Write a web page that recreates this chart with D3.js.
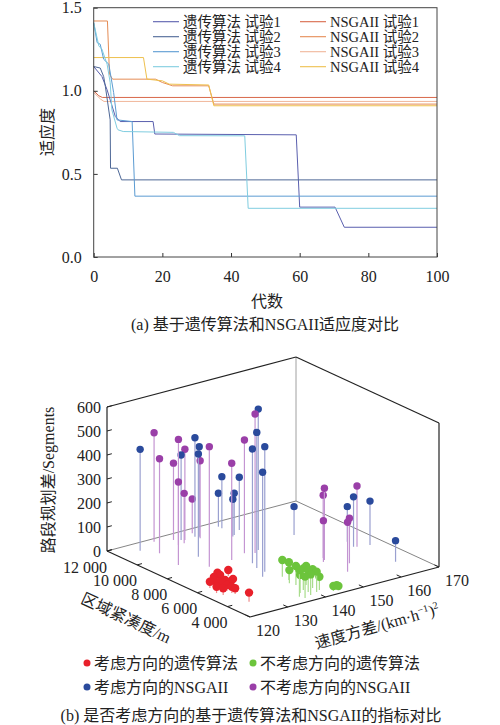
<!DOCTYPE html>
<html><head><meta charset="utf-8">
<script src="https://cdn.jsdelivr.net/npm/d3@7"></script>
<style>
body{margin:0;background:#fff}
text{font-family:"Liberation Serif","Times New Roman","Noto Sans CJK SC",serif;fill:#222}
</style>
</head><body>
<svg id="c" width="500" height="725"></svg>
<script>
// ---------- (a) fitness curves: [generation, fitness] ----------
const ga1 = [[0,1.146],[2.4,1.086],[3.9,1.006],[6.3,0.845],[7.7,0.815],[17.3,0.815],[17.8,0.74],[59,0.735],[60,0.30],[70.3,0.30],[73,0.179],[100,0.179]];
const ga2 = [[0,1.146],[1.9,1.137],[2.9,1.086],[3.4,1.026],[4.8,0.825],[4.9,0.534],[6.9,0.534],[8.1,0.464],[100,0.464]];
const ga3 = [[0,1.41],[1,1.29],[1.9,1.28],[2.9,1.19],[4.4,1.16],[5.8,0.99],[6.8,0.825],[11.2,0.815],[12,0.366],[100,0.366]];
const ga4 = [[0,1.41],[1.5,1.27],[2.4,1.25],[3.9,1.16],[4.8,1.05],[5.3,0.885],[6.8,0.775],[7.1,0.765],[8.6,0.755],[23.2,0.75],[25,0.73],[44,0.729],[45,0.293],[100,0.293]];
const ns1 = [[0,1.0],[1.5,0.97],[2.5,0.96],[100,0.96]];
const ns2 = [[0,1.42],[4,1.42],[4.6,1.1],[5.5,1.07],[18,1.07],[20,1.05],[23,1.03],[33.5,1.03],[35,0.92],[100,0.92]];
const ns3 = [[0,0.99],[2,0.95],[3,0.936],[100,0.936]];
const ns4 = [[0,1.2],[14.5,1.2],[15.5,1.07],[20,1.06],[22,1.04],[33.5,1.035],[35,0.91],[100,0.91]];
const seriesNames = ["遗传算法 试验1","遗传算法 试验2","遗传算法 试验3","遗传算法 试验4","NSGAII 试验1","NSGAII 试验2","NSGAII 试验3","NSGAII 试验4"];
const seriesColors = ["#5a5fae","#4d6796","#5b9bd2","#80cde0","#d8684a","#e58c55","#f0b69a","#eec04e"];
const genTicks = [0,20,40,60,80,100];
const fitTicks = [0,0.5,1.0,1.5];

// ---------- (b) 3D stems: [speed variance, compactness, segments] ----------
const gaDir = [[128.4,6770,26],[124.8,6130,29],[125.5,5880,26],[123.1,5500,26],[131.3,6780,25],[127.1,5940,25],[127.2,5640,26],[125.7,5140,26],[125.9,4970,24],[123.5,5160,28],[123.8,6120,26],[125.4,3920,38],[125.6,5440,25],[128.1,6520,25],[126.3,6480,25],[128.8,5840,25]];
const gaNoDir = [[140.1,5400,70],[140.0,4940,74],[138.9,4630,55],[135.7,3160,111],[138.8,3680,90],[137.2,3490,75],[138.9,3380,92],[141.1,3640,78],[138.2,3040,86],[140.3,3170,85],[141.5,3290,55],[136.2,2910,89],[143.5,2860,21],[144.4,2870,20],[144.7,2830,17],[139.4,4320,79],[141.1,4070,79]];
const nsDir = [[125.7,11230,422],[140.0,11180,412],[136.5,11220,354],[140.7,11070,375],[133.3,9270,428],[147.6,11300,215],[147.6,11530,139],[147.2,10380,174],[146.4,10270,156],[149.9,10720,220],[140.0,7360,476],[145.8,8430,587],[139.0,6820,565],[139.0,6290,521],[136.8,5880,435],[157.3,8940,118],[163.8,7035,146],[163.0,6420,208],[166.4,6180,183],[164.6,4030,88]];
const nsNoDir = [[131.3,11710,454],[128.0,10520,394],[135.2,11400,320],[134.2,10820,440],[126.9,8990,346],[137.1,11120,378],[135.8,10840,208],[140.8,11560,143],[140.3,10910,323],[131.5,8090,500],[137.7,8160,403],[142.3,8470,472],[144.2,8240,579],[153.3,5920,299],[153.8,6125,262],[152.4,5760,172],[163.6,6340,253],[156.3,5010,188],[152.9,4280,206]];
const groupNames = ["考虑方向的遗传算法","不考虑方向的遗传算法","考虑方向的NSGAII","不考虑方向的NSGAII"];
const groupColors = ["#e8202a","#6cc43c","#2a4a9c","#9a3fa8"];
const stemColors = ["#f08a8a","#a8dc8c","#9aa0d0","#c495d2"];
const speedTicks = [120,130,140,150,160,170];
const compTicks = [4000,6000,8000,10000,12000];
const segTicks = [0,100,200,300,400,500,600];

const svg = d3.select("#c");

// ======== (a) ========
const x = d3.scaleLinear().domain([0,100]).range([93.7,437]);
const y = d3.scaleLinear().domain([0,1.5]).range([257,7.7]);
const gA = svg.append("g");
const line = d3.line().x(d=>x(d[0])).y(d=>y(d[1]));
const allSeries = [ga1,ga2,ga3,ga4,ns1,ns2,ns3,ns4];
[4,5,6,7,0,1,2,3].forEach(i=>{
  gA.append("path").attr("d",line(allSeries[i])).attr("fill","none")
    .attr("stroke",seriesColors[i]).attr("stroke-width",1);
});
const ax = gA.append("g").attr("transform","translate(0,257)")
  .call(d3.axisBottom(x).tickValues(genTicks).tickSize(-4).tickPadding(14).tickFormat(d3.format("d")));
const ay = gA.append("g").attr("transform","translate(93.7,0)")
  .call(d3.axisLeft(y).tickValues(fitTicks).tickSize(-4).tickPadding(12).tickFormat(d3.format(".1f")));
[ax,ay].forEach(a=>{
  a.select(".domain").remove();
  a.selectAll("line").attr("stroke","#333");
  a.selectAll("text").style("font-size","16px").attr("fill","#222")
   .style("font-family",'"Liberation Serif",serif');
});
gA.append("rect").attr("x",x(0)).attr("y",y(1.5)).attr("width",x(100)-x(0)).attr("height",y(0)-y(1.5))
  .attr("fill","none").attr("stroke","#444").attr("stroke-width",1);
// legend
seriesNames.forEach((n,i)=>{
  const col = Math.floor(i/4), row = i%4;
  const lx = col===0?153:300, tx = col===0?183:330, yy = 21.7+row*15;
  gA.append("line").attr("x1",lx).attr("x2",lx+26).attr("y1",yy).attr("y2",yy)
    .attr("stroke",seriesColors[i]).attr("stroke-width",1.1);
  gA.append("text").attr("x",tx).attr("y",yy+5).style("font-size","14.5px").text(n);
});
gA.append("text").attr("transform","translate(47,132) rotate(-90)").attr("text-anchor","middle")
  .style("font-size","16px").attr("dy","0.35em").text("适应度");
gA.append("text").attr("x",267).attr("y",307).attr("text-anchor","middle").style("font-size","16px").text("代数");
gA.append("text").attr("x",265).attr("y",330).attr("text-anchor","middle").style("font-size","16px").text("(a) 基于遗传算法和NSGAII适应度对比");

// ======== (b) ========
const sS = d3.scaleLinear().domain([120,170]).range([0,1]);
const sC = d3.scaleLinear().domain([2500,12000]).range([0,1]);
const sZ = d3.scaleLinear().domain([0,600]).range([0,1]);
const O=[250,617], U=[189,-50], V=[-143,-66], W=[0,-144];
function P(s,c,z){const u=sS(s),v=sC(c),w=sZ(z);return [O[0]+u*U[0]+v*V[0]+w*W[0], O[1]+u*U[1]+v*V[1]+w*W[1]];}
const gB = svg.append("g");
function seg(a,b,col,w){gB.append("line").attr("x1",a[0]).attr("y1",a[1]).attr("x2",b[0]).attr("y2",b[1]).attr("stroke",col).attr("stroke-width",w);}
const s0=120,s1=170,c0=2500,c1=12000,z1=600;
seg(P(s0,c1,0),P(s1,c1,0),"#666",0.8);
seg(P(s1,c1,0),P(s1,c0,0),"#666",0.8);
seg(P(s1,c1,0),P(s1,c1,z1),"#888",0.8);
const pts=[];
[gaDir,gaNoDir,nsDir,nsNoDir].forEach((arr,gi)=>arr.forEach(d=>pts.push({d,gi})));
pts.sort((a,b)=>(sS(b.d[0])+sC(b.d[1]))-(sS(a.d[0])+sC(a.d[1])));
pts.forEach(p=>{
  const b=P(p.d[0],p.d[1],0), t=P(p.d[0],p.d[1],p.d[2]);
  seg(b,t,stemColors[p.gi],1.2);
  gB.append("circle").attr("cx",t[0]).attr("cy",t[1]).attr("r",p.gi<2?4.2:3.7).attr("fill",groupColors[p.gi]);
});
seg(P(s0,c1,0),P(s0,c1,z1),"#222",1.2);
seg(P(s0,c1,z1),P(s1,c1,z1),"#222",1.2);
seg(P(s1,c1,z1),P(s1,c0,z1),"#222",1.2);
seg(P(s1,c0,z1),P(s1,c0,0),"#222",1.2);
seg(P(s0,c1,0),P(s0,c0,0),"#222",1.2);
seg(P(s0,c0,0),P(s1,c0,0),"#222",1.2);
const un=[0.967,-0.256], vn=[-0.908,-0.419];
const fmtK = d3.formatLocale({decimal:".",thousands:" ",grouping:[3],currency:["",""]}).format(",");
segTicks.forEach(z=>{
  const p=P(s0,c1,z);
  seg(p,[p[0]+un[0]*5,p[1]+un[1]*5],"#222",1);
  gB.append("text").attr("x",p[0]-6).attr("y",p[1]).attr("dy","0.35em").attr("text-anchor","end").style("font-size","16px").text(z);
});
compTicks.forEach(c=>{
  const p=P(s0,c,0);
  seg(p,[p[0]+un[0]*5,p[1]+un[1]*5],"#222",1);
  gB.append("text").attr("x",p[0]).attr("y",p[1]+16).attr("dy","0.35em").attr("text-anchor","end").style("font-size","16px").text(fmtK(c));
});
speedTicks.forEach(s=>{
  const p=P(s,c0,0);
  seg(p,[p[0]+vn[0]*5,p[1]+vn[1]*5],"#222",1);
  gB.append("text").attr("x",p[0]+18).attr("y",p[1]+13).attr("dy","0.35em").attr("text-anchor","middle").style("font-size","16px").text(s);
});
gB.append("text").attr("transform","translate(48,480) rotate(-90)").attr("text-anchor","middle").attr("dy","0.35em")
  .style("font-size","16px").text("路段规划差/Segments");
gB.append("text").attr("transform","translate(126,618) rotate(25)").attr("text-anchor","middle").attr("dy","0.35em")
  .style("font-size","16px").text("区域紧凑度/m");
const st = gB.append("text").attr("transform","translate(377,626) rotate(-16)").attr("text-anchor","middle").attr("dy","0.35em")
  .style("font-size","16px");
st.append("tspan").text("速度方差/(km·h");
st.append("tspan").attr("dy","-6").style("font-size","10px").text("−1");
st.append("tspan").attr("dy","6").text(")");
st.append("tspan").attr("dy","-6").style("font-size","10px").text("2");
groupNames.forEach((n,i)=>{
  const cx = i%2===0?87:253, yy = i<2?663:687;
  gB.append("circle").attr("cx",cx).attr("cy",yy).attr("r",3.5).attr("fill",groupColors[i]);
  gB.append("text").attr("x",cx+7).attr("y",yy+5.5).style("font-size","16px").text(n);
});
gB.append("text").attr("x",251).attr("y",721).attr("text-anchor","middle").style("font-size","16px").text("(b) 是否考虑方向的基于遗传算法和NSGAII的指标对比");
</script>
</body></html>
